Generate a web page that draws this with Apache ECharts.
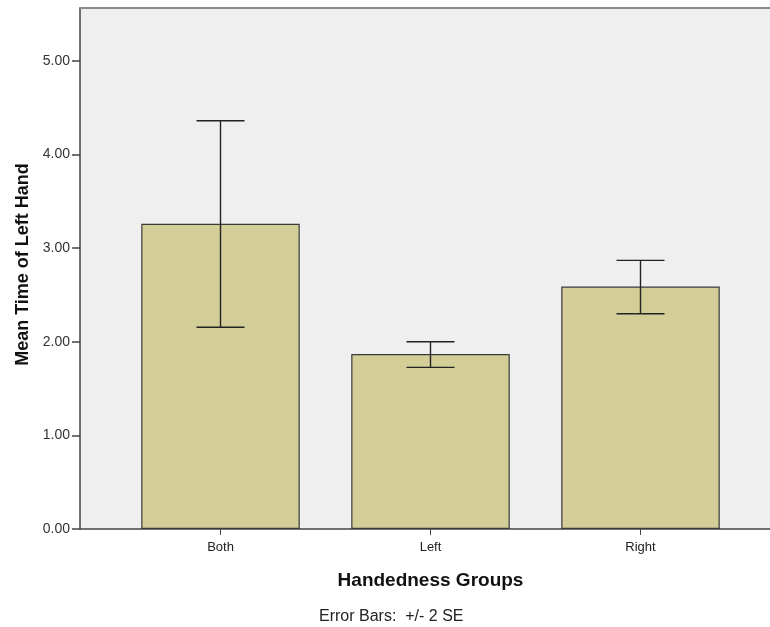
<!DOCTYPE html>
<html><head><meta charset="utf-8">
<script src="https://cdn.jsdelivr.net/npm/echarts@6/dist/echarts.min.js"></script>
<style>html,body{margin:0;padding:0;background:#fff}#c{width:770px;height:627px}</style>
</head><body><div id="c"></div>
<script>
const categories = ['Both', 'Left', 'Right'];
const means = [3.26, 1.87, 2.59];
const errLow = [2.155, 1.727, 2.30];
const errHigh = [4.362, 2.001, 2.87];
const yTicks = [0, 1, 2, 3, 4, 5];

const font = 'Arial, "Liberation Sans", sans-serif';
const chart = echarts.init(document.getElementById('c'));
chart.setOption({
  animation: false,
  grid: [
    {left: 80, top: 8, right: 0, bottom: 98, show: true, backgroundColor: '#efefef', borderWidth: 0},
    {left: 115.5, top: 8, width: 630, bottom: 98}
  ],
  xAxis: [
    {gridIndex: 0, type: 'category', data: [''], position: 'bottom',
     axisLine: {lineStyle: {color: '#444', width: 1.5}}, axisTick: {show: false}, axisLabel: {show: false}},
    {gridIndex: 0, type: 'category', data: [''], position: 'top',
     axisLine: {lineStyle: {color: '#8a8a8a', width: 2}}, axisTick: {show: false}, axisLabel: {show: false}},
    {gridIndex: 1, type: 'category', data: categories, position: 'bottom',
     axisLine: {show: false},
     axisTick: {show: true, alignWithLabel: true, length: 6, lineStyle: {color: '#444'}},
     axisLabel: {color: '#222', fontSize: 13, fontFamily: font, margin: 12},
     name: 'Handedness Groups', nameLocation: 'middle', nameGap: 42,
     nameTextStyle: {fontSize: 19, fontWeight: 'bold', color: '#111', fontFamily: font}}
  ],
  yAxis: [
    {gridIndex: 0, type: 'value', min: 0, max: 5.566,
     axisLine: {show: true, lineStyle: {color: '#444', width: 1.5}},
     axisTick: {show: true, length: 8, customValues: yTicks, lineStyle: {color: '#444', width: 1.5}},
     splitLine: {show: false},
     axisLabel: {color: '#333', fontSize: 14, fontFamily: font, margin: 10, customValues: yTicks,
       formatter: v => v.toFixed(2)},
     name: 'Mean Time of Left Hand', nameLocation: 'middle', nameGap: 45, nameRotate: 90,
     nameTextStyle: {fontSize: 18, fontWeight: 'bold', color: '#111', fontFamily: font, padding: [0, 0, 0, 8]}},
    {gridIndex: 1, type: 'value', min: 0, max: 5.566, show: false, splitLine: {show: false}}
  ],
  graphic: [{type: 'text', left: 319, top: 609,
    style: {text: 'Error Bars:  +/- 2 SE', fill: '#222', font: '16px ' + font}}],
  series: [
    {type: 'bar', xAxisIndex: 2, yAxisIndex: 1, data: means, barWidth: 158.5,
     itemStyle: {color: '#d3ce97', borderColor: '#3a3a3a', borderWidth: 1.2}},
    {type: 'custom', xAxisIndex: 2, yAxisIndex: 1,
     data: categories.map((c, i) => [i, errLow[i], errHigh[i]]),
     renderItem: function (params, api) {
       const lo = api.coord([api.value(0), api.value(1)]);
       const hi = api.coord([api.value(0), api.value(2)]);
       const hw = 24;
       const st = {stroke: '#222', lineWidth: 1.4};
       return {type: 'group', children: [
         {type: 'line', shape: {x1: hi[0], y1: hi[1], x2: lo[0], y2: lo[1]}, style: st},
         {type: 'line', shape: {x1: hi[0] - hw, y1: hi[1], x2: hi[0] + hw, y2: hi[1]}, style: st},
         {type: 'line', shape: {x1: lo[0] - hw, y1: lo[1], x2: lo[0] + hw, y2: lo[1]}, style: st}
       ]};
     }, z: 5}
  ]
});
</script></body></html>
